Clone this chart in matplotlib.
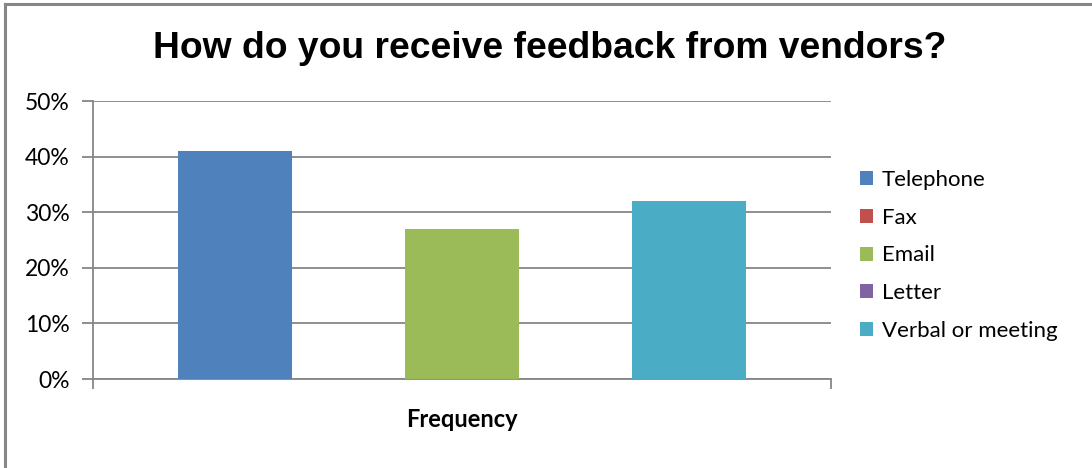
import numpy as np
import matplotlib.pyplot as plt
from matplotlib.lines import Line2D
from matplotlib.patches import Patch
from matplotlib.ticker import PercentFormatter

# Survey answers (share of respondents)
series = ['Telephone', 'Fax', 'Email', 'Letter', 'Verbal or meeting']
values = [0.41, 0.0, 0.27, 0.0, 0.32]
colors = ['#4F81BD', '#C0504D', '#9BBB59', '#8064A2', '#4BACC6']
category = 'Frequency'
yticks = [0.0, 0.1, 0.2, 0.3, 0.4, 0.5]

grey = '#868686'
plt.rcParams['font.family'] = ['Lato', 'DejaVu Sans']

fig = plt.figure(figsize=(10.92, 4.68), dpi=100)
ax = fig.add_axes([93 / 1092, 89 / 468, 738 / 1092, 278 / 468])

# clustered bars, gap width 150 %
n = len(series)
w = 1.0 / (n + 1.5)
for i, (name, v, c) in enumerate(zip(series, values, colors)):
    ax.bar((i - (n - 1) / 2) * w, v, width=w, color=c, linewidth=0, zorder=3)

ax.set_xlim(-0.5, 0.5)
ax.set_ylim(0, 0.5)
ax.set_yticks(yticks)
ax.yaxis.set_major_formatter(PercentFormatter(1.0, decimals=0))
ax.grid(axis='y', color=grey, linewidth=1.3, zorder=0)
ax.tick_params(axis='y', length=8, width=1.3, color=grey, labelsize=16.5, pad=9)

ax.set_xticks([0])
ax.set_xticklabels([category], fontsize=17, fontweight='bold')
ax.tick_params(axis='x', which='major', length=0, pad=21)
ax.set_xticks([-0.5, 0.5], minor=True)
ax.tick_params(axis='x', which='minor', length=7, width=1.3, color=grey)

for s in ('top', 'right'):
    ax.spines[s].set_visible(False)
for s in ('left', 'bottom'):
    ax.spines[s].set_color(grey)
    ax.spines[s].set_linewidth(1.3)

handles = [Patch(facecolor=c, edgecolor='none') for c in colors]
fig.legend(handles, series, loc='upper left', bbox_to_anchor=(851 / 1092, 1 - 161 / 468),
           frameon=False, fontsize=16, handlelength=0.6, handleheight=0.6,
           handletextpad=0.4, labelspacing=0.8, borderaxespad=0)

fig.text(550 / 1092, 1 - 49 / 468, 'How do you receive feedback from vendors?',
         ha='center', va='center', fontsize=26.8, fontweight='bold',
         family='Liberation Sans')

# chart frame (left and top edges)
fig.add_artist(Line2D([5 / 1092, 5 / 1092], [0, 1 - 4 / 468], color=grey, lw=2.2))
fig.add_artist(Line2D([5 / 1092, 1], [1 - 4 / 468, 1 - 4 / 468], color=grey, lw=2.2))

fig.savefig('out.png', dpi=100)
